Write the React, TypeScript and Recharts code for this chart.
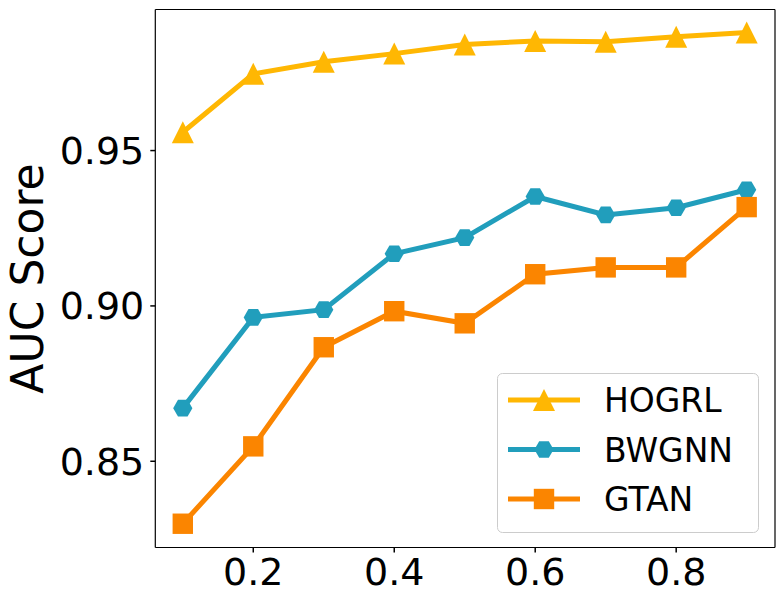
import React from 'react';
import { LineChart, Line, XAxis, YAxis, ReferenceLine } from 'recharts';

const ratios = [0.1, 0.2, 0.3, 0.4, 0.5, 0.6, 0.7, 0.8, 0.9];
const hogrl = [0.9559, 0.9747, 0.9786, 0.9812, 0.9841, 0.9853, 0.985, 0.9866, 0.988];
const bwgnn = [0.8671, 0.8963, 0.8988, 0.9168, 0.922, 0.9352, 0.9293, 0.9316, 0.9374];
const gtan = [0.8299, 0.8548, 0.8867, 0.8983, 0.8944, 0.9102, 0.9124, 0.9124, 0.9318];
const xTicks = [0.2, 0.4, 0.6, 0.8];
const yTicks = [0.85, 0.9, 0.95];
const xDomain = [0.061, 0.9402];
const yDomain = [0.82225, 0.9954];

const series = [
  { key: 'HOGRL', values: hogrl, color: '#FFB703', shape: 'triangle' },
  { key: 'BWGNN', values: bwgnn, color: '#219EBC', shape: 'hexagon' },
  { key: 'GTAN', values: gtan, color: '#FB8500', shape: 'square' },
];

const data = ratios.map((r, i) => ({
  ratio: r,
  HOGRL: hogrl[i],
  BWGNN: bwgnn[i],
  GTAN: gtan[i],
}));

const FONT = 'DejaVu Sans';

function Marker({ cx, cy, shape, color }: { cx: number; cy: number; shape: string; color: string }) {
  if (cx == null || cy == null) return null;
  if (shape === 'triangle') {
    const s = 11;
    return <polygon points={`${cx},${cy - s} ${cx - s},${cy + s} ${cx + s},${cy + s}`} fill={color} stroke="none" />;
  }
  if (shape === 'square') {
    const s = 10.2;
    return <rect x={cx - s} y={cy - s} width={2 * s} height={2 * s} fill={color} stroke="none" />;
  }
  const r = 9.6;
  const pts: string[] = [];
  for (let k = 0; k < 6; k++) {
    const a = (Math.PI / 3) * k;
    pts.push(`${cx + r * Math.cos(a)},${cy + r * Math.sin(a)}`);
  }
  return <polygon points={pts.join(' ')} fill={color} stroke="none" />;
}

function LegendBox() {
  return (
    <svg width={263} height={161} style={{ display: 'block' }}>
      <rect x={0.5} y={0.5} width={261} height={159} rx={5} ry={5} fill="rgba(255,255,255,0.8)" stroke="#cccccc" strokeWidth={1} />
      {series.map((s, i) => {
        const y = 27 + i * 49.5;
        return (
          <g key={s.key}>
            <line x1={11} x2={83} y1={y} y2={y} stroke={s.color} strokeWidth={5} />
            <Marker cx={47} cy={y} shape={s.shape} color={s.color} />
            <text x={107} y={y + 12} fontSize={33} fontFamily={FONT} fill="#000">
              {s.key}
            </text>
          </g>
        );
      })}
    </svg>
  );
}

export default function App() {
  return (
    <div style={{ position: 'absolute', left: 0, top: 0, width: 784, height: 606, background: '#fff' }}>
      <LineChart width={784} height={606} data={data} margin={{ top: 9.5, right: 9, bottom: 0, left: 0 }}>
        <XAxis
          dataKey="ratio"
          type="number"
          domain={xDomain}
          ticks={xTicks}
          allowDataOverflow
          tickFormatter={(v: number) => v.toFixed(1)}
          height={58.5}
          stroke="#000"
          tickSize={5}
          tickMargin={6}
          tick={{ fontSize: 38, fontFamily: FONT, fill: '#000' }}
          axisLine={{ stroke: '#000', strokeWidth: 1.2 }}
          tickLine={{ stroke: '#000', strokeWidth: 1.5 }}
        />
        <YAxis
          type="number"
          domain={yDomain}
          ticks={yTicks}
          allowDataOverflow
          tickFormatter={(v: number) => v.toFixed(2)}
          width={155.3}
          stroke="#000"
          tickSize={5}
          tickMargin={6}
          tick={{ fontSize: 38, fontFamily: FONT, fill: '#000' }}
          axisLine={{ stroke: '#000', strokeWidth: 1.2 }}
          tickLine={{ stroke: '#000', strokeWidth: 1.5 }}
          label={(props: any) => {
            const vb = props.viewBox || { y: 9.5, height: 538.5 };
            const cy = vb.y + vb.height / 2;
            return (
              <text
                x={43}
                y={cy}
                textAnchor="middle"
                fontSize={44}
                fontFamily={FONT}
                fill="#000"
                transform={`rotate(-90, 43, ${cy})`}
              >
                AUC Score
              </text>
            );
          }}
        />
        <ReferenceLine y={yDomain[1]} stroke="#000" strokeWidth={1.2} />
        <ReferenceLine x={xDomain[1]} stroke="#000" strokeWidth={1.2} />
        {series.map((s) => (
          <Line
            key={s.key}
            dataKey={s.key}
            stroke={s.color}
            strokeWidth={5}
            isAnimationActive={false}
            dot={(p: any) => <Marker key={`${s.key}-${p.index}`} cx={p.cx} cy={p.cy} shape={s.shape} color={s.color} />}
            activeDot={false}
          />
        ))}
      </LineChart>
      <div style={{ position: 'absolute', left: 497, top: 373, width: 263, height: 161 }}>
        <LegendBox />
      </div>
    </div>
  );
}
